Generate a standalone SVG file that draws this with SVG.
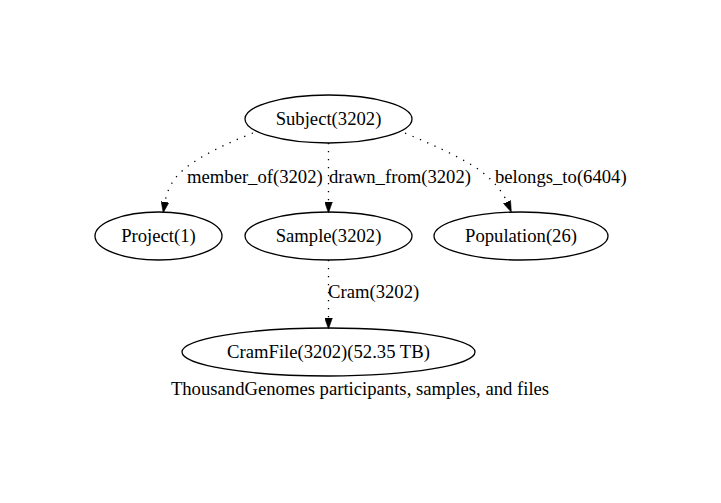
<svg xmlns="http://www.w3.org/2000/svg" width="721" height="503" viewBox="0 0 721 503">
<style>
.node ellipse{fill:none;stroke:#000;stroke-width:1.3}
text{font-family:"Liberation Serif","Times New Roman",serif;font-size:18.67px;fill:#000}
.node text{text-anchor:middle}
.edge path{fill:none;stroke:#000;stroke-width:1.3;stroke-dasharray:1.33,6.67}
</style>
<defs>
<marker id="arr" markerUnits="userSpaceOnUse" markerWidth="11" markerHeight="8" viewBox="0 0 10 7" refX="0" refY="3.5" orient="auto">
<path d="M0,0 L10,3.5 L0,7 z" fill="#000" stroke="#000" stroke-width="0.5"/>
</marker>
</defs>
<rect width="721" height="503" fill="#fff"/>
<g id="edges">
<g class="edge" id="e_subject_project">
<path d="M253,133 C215,148 182,165 172,183 C168,190 166,196 165,202" marker-end="url(#arr)"/>
<text x="187" y="183">member_of(3202)</text>
</g>
<g class="edge" id="e_subject_sample">
<path d="M328.5,143 L328.5,202" marker-end="url(#arr)"/>
<text x="329" y="183">drawn_from(3202)</text>
</g>
<g class="edge" id="e_subject_population">
<path d="M405,133 C440,148 472,162 488,177 C498,186 504,195 507,202" marker-end="url(#arr)"/>
<text x="495" y="183">belongs_to(6404)</text>
</g>
<g class="edge" id="e_sample_cramfile">
<path d="M328.5,260 L328.5,318" marker-end="url(#arr)"/>
<text x="328" y="298">Cram(3202)</text>
</g>
</g>
<g class="node" id="Subject">
<ellipse cx="328.5" cy="119" rx="83.5" ry="24"/>
<text x="328.5" y="125">Subject(3202)</text>
</g>
<g class="node" id="Project">
<ellipse cx="158.5" cy="236" rx="63.5" ry="24"/>
<text x="158.5" y="242">Project(1)</text>
</g>
<g class="node" id="Sample">
<ellipse cx="328.5" cy="236" rx="83.5" ry="24"/>
<text x="328.5" y="242">Sample(3202)</text>
</g>
<g class="node" id="Population">
<ellipse cx="521" cy="236" rx="87" ry="24"/>
<text x="521" y="242">Population(26)</text>
</g>
<g class="node" id="CramFile">
<ellipse cx="328.5" cy="352" rx="146.5" ry="24"/>
<text x="328.5" y="358">CramFile(3202)(52.35 TB)</text>
</g>
<text x="360" y="395" text-anchor="middle">ThousandGenomes participants, samples, and files</text>
</svg>
